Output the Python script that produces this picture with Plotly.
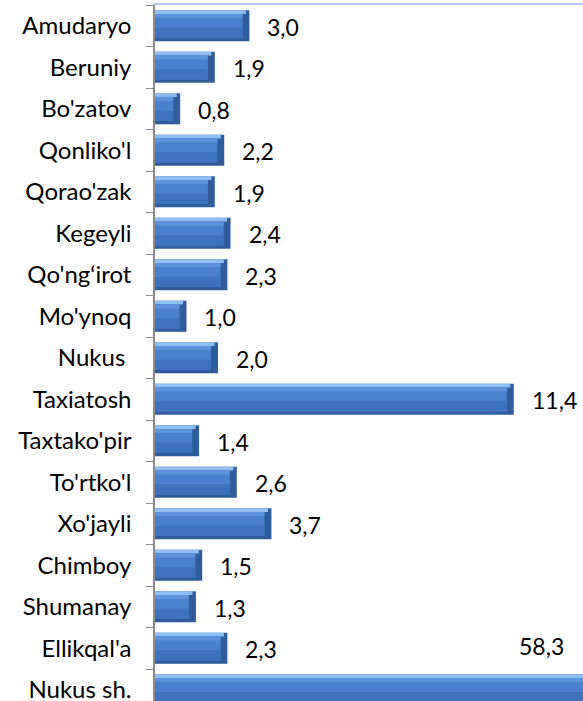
import plotly.graph_objects as go

categories = ["Amudaryo", "Beruniy", "Bo'zatov", "Qonliko'l", "Qorao'zak", "Kegeyli",
              "Qo'ng‘irot", "Mo'ynoq", "Nukus ", "Taxiatosh", "Taxtako'pir", "To'rtko'l",
              "Xo'jayli", "Chimboy", "Shumanay", "Ellikqal'a", "Nukus sh."]
values = [3.0, 1.9, 0.8, 2.2, 1.9, 2.4, 2.3, 1.0, 2.0, 11.4, 1.4, 2.6, 3.7, 1.5, 1.3, 2.3, 58.3]
value_labels = [f"{v:.1f}".replace(".", ",") for v in values]

X_MAX = 13.6
FONT = "Lato, Open Sans, sans-serif"
FS_CAT = 24
FS_VAL = 23

fig = go.Figure()
inset = 0.22
inner = [max(v - inset, 0.05) for v in values]
top = [max(v - inset * 0.5, 0.05) for v in values]

def layer(xs, width, offset, color):
    fig.add_trace(go.Bar(y=categories, x=xs, orientation="h", width=width, offset=offset,
                         marker=dict(color=color, line=dict(width=0)),
                         hoverinfo="skip", showlegend=False))

layer(values, 0.75, -0.375, "#2f5d9c")      # dark edge / bevel
layer(top, 0.09, -0.375, "#8fc0f4")         # light top edge
layer(inner, 0.58, -0.285, "#4a80cc")       # body
layer(inner, 0.25, 0.045, "#3f72bd")        # darker lower body
layer(inner, 0.1, -0.285, "#5e93db")        # lighter upper body

annotations = []
for c, v, t in zip(categories, values, value_labels):
    if v <= X_MAX:
        annotations.append(dict(x=v, y=c, xref="x", yref="y", text=t, showarrow=False,
                                xanchor="left", yanchor="middle", xshift=16, yshift=-1,
                                font=dict(family=FONT, size=FS_VAL, color="#000000")))
    else:
        annotations.append(dict(x=0.845, y=categories[-2], xref="paper", yref="y", text=t,
                                showarrow=False, xanchor="left", yanchor="middle", yshift=2,
                                font=dict(family=FONT, size=FS_VAL, color="#000000")))

fig.update_layout(
    width=583, height=701,
    margin=dict(l=155, r=0, t=5, b=0),
    barmode="overlay",
    paper_bgcolor="white", plot_bgcolor="white",
    font=dict(family=FONT, size=FS_CAT, color="#000000"),
    annotations=annotations,
    xaxis=dict(range=[0, X_MAX], side="top", showline=True, linecolor="#b3c8ec", linewidth=2,
               showticklabels=False, showgrid=False, zeroline=False, ticks="",
               automargin=False),
    yaxis=dict(type="category", categoryorder="array", categoryarray=categories,
               range=[16.27, -0.5], showline=True, linecolor="#8c8c8c", linewidth=1.5,
               ticks="outside", ticklen=7, tickcolor="#8c8c8c", tickson="boundaries",
               ticklabelstandoff=17, showgrid=False, zeroline=False, automargin=False,
               tickfont=dict(family=FONT, size=FS_CAT, color="#000000")),
)

fig.write_html("out.html", config={"displayModeBar": False},
               post_script="document.body.style.margin='0';document.body.style.padding='0';"
                           "document.body.style.overflow='hidden';")
